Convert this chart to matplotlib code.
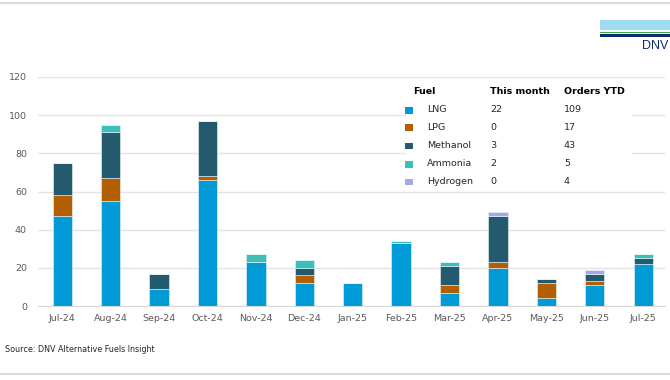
import numpy as np
import matplotlib.pyplot as plt
from matplotlib.patches import Rectangle
from matplotlib.lines import Line2D

months = ['Jul-24', 'Aug-24', 'Sep-24', 'Oct-24', 'Nov-24', 'Dec-24', 'Jan-25',
          'Feb-25', 'Mar-25', 'Apr-25', 'May-25', 'Jun-25', 'Jul-25']
fuels = ['LNG', 'LPG', 'Methanol', 'Ammonia', 'Hydrogen']
lng      = [47, 55, 9, 66, 23, 12, 12, 33, 7, 20, 4, 11, 22]
lpg      = [11, 12, 0, 2, 0, 4, 0, 0, 4, 3, 8, 2, 0]
methanol = [17, 24, 8, 29, 0, 4, 0, 0, 10, 24, 2, 4, 3]
ammonia  = [0, 4, 0, 0, 4, 4, 0, 1, 2, 0, 0, 0, 2]
hydrogen = [0, 0, 0, 0, 0, 0, 0, 0, 0, 2, 0, 2, 0]
this_month = ['22', '0', '3', '2', '0']
orders_ytd = ['109', '17', '43', '5', '4']

colors = ['#009ad6', '#b35e00', '#235a6e', '#3bbfb6', '#a4a9e6']

fig = plt.figure(figsize=(6.7, 3.8), dpi=100)
ax = fig.add_axes([38 / 670, 74 / 380, 627 / 670, 229 / 380])

x = np.arange(len(months))
bottom = np.zeros(len(months))
for vals, c in zip([lng, lpg, methanol, ammonia, hydrogen], colors):
    ax.bar(x, vals, 0.4, bottom=bottom, color=c, edgecolor='#e8f6fb',
           linewidth=0.4, zorder=3)
    bottom += np.array(vals)

ax.set_ylim(0, 120)
ax.set_xlim(-0.5, 12.45)
ax.set_yticks(range(0, 121, 20))
ax.set_xticks(x)
ax.set_xticklabels(months)
ax.tick_params(axis='both', length=0, labelsize=6.8, colors='#595959')
ax.tick_params(axis='y', pad=8)
ax.tick_params(axis='x', pad=6)
ax.grid(axis='y', color='#e3e3e3', linewidth=1, zorder=0)
for s in ['top', 'right', 'left']:
    ax.spines[s].set_visible(False)
ax.spines['bottom'].set_color('#d9d9d9')

# legend table
fig.patches.append(Rectangle((406 / 670, 1 - 190 / 380), 226 / 670, 110 / 380,
                             transform=fig.transFigure, facecolor='white',
                             edgecolor='none', zorder=5))
hy = 1 - 91 / 380
fig.text(413 / 670, hy, 'Fuel', fontsize=6.8, fontweight='bold', va='center', zorder=6)
fig.text(490 / 670, hy, 'This month', fontsize=6.8, fontweight='bold', va='center', zorder=6)
fig.text(564 / 670, hy, 'Orders YTD', fontsize=6.8, fontweight='bold', va='center', zorder=6)
for i, f in enumerate(fuels):
    ry = 1 - (110 + 18 * i) / 380
    fig.patches.append(Rectangle((405 / 670, ry - 3.5 / 380), 8 / 670, 7 / 380,
                                 transform=fig.transFigure, facecolor=colors[i],
                                 edgecolor='none', zorder=6))
    fig.text(427 / 670, ry, f, fontsize=6.8, va='center', color='#262626', zorder=6)
    fig.text(490 / 670, ry, this_month[i], fontsize=6.8, va='center', color='#262626', zorder=6)
    fig.text(564 / 670, ry, orders_ytd[i], fontsize=6.8, va='center', color='#262626', zorder=6)

# logo
fig.patches.append(Rectangle((600 / 670, 1 - 30 / 380), 70 / 670, 10 / 380,
                             transform=fig.transFigure, facecolor='#9fdcf2', edgecolor='none'))
fig.patches.append(Rectangle((600 / 670, 1 - 33 / 380), 70 / 670, 1.5 / 380,
                             transform=fig.transFigure, facecolor='#3fae49', edgecolor='none'))
fig.patches.append(Rectangle((600 / 670, 1 - 37 / 380), 70 / 670, 3 / 380,
                             transform=fig.transFigure, facecolor='#0f2b6e', edgecolor='none'))
fig.text(668 / 670, 1 - 46 / 380, 'DNV', fontsize=9, color='#0f2b6e', va='center',
         ha='right', family='Liberation Sans')

# frame lines
fig.lines.append(Line2D([0, 1], [1 - 3 / 380, 1 - 3 / 380], transform=fig.transFigure,
                        color='#dcdcdc', linewidth=1.5))
fig.lines.append(Line2D([0, 1], [1 - 374 / 380, 1 - 374 / 380], transform=fig.transFigure,
                        color='#dcdcdc', linewidth=1.5))

fig.text(5 / 670, 1 - 349 / 380, 'Source: DNV Alternative Fuels Insight', fontsize=5.8,
         color='#262626', va='center')

fig.savefig('out.png', dpi=100)
